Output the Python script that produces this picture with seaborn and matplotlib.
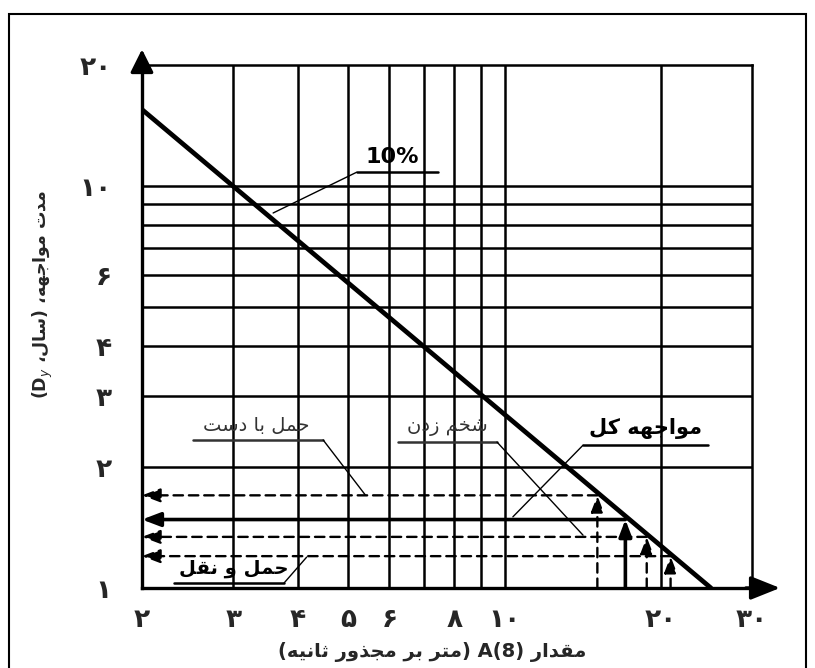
import re
import matplotlib
matplotlib.use("Agg")
import matplotlib.pyplot as plt
import seaborn as sns
from matplotlib.patches import Rectangle

# --- data ---
x_ticks = [2, 3, 4, 5, 6, 8, 10, 20, 30]
x_tick_labels = ["۲", "۳", "۴", "۵", "۶", "۸", "۱۰", "۲۰", "۳۰"]
y_ticks = [1, 2, 3, 4, 6, 10, 20]
y_tick_labels = ["۱", "۲", "۳", "۴", "۶", "۱۰", "۲۰"]
x_grid = [3, 4, 5, 6, 7, 8, 9, 10, 20]
y_grid = [2, 3, 4, 5, 6, 7, 8, 9, 10]

limit_a = [2, 25]          # 10% line, A(8)
limit_dy = [15.5, 1.0]     # 10% line, Dy

source_names = ["حمل با دست", "مواجهه کل", "شخم زدن", "حمل و نقل"]
source_a = [15.1, 17.1, 18.8, 20.9]
source_dy = [1.70, 1.48, 1.34, 1.20]
source_solid = [False, True, False, False]

xlabel = "مقدار A(8) (متر بر مجذور ثانیه)"
ylabel = "مدت مواجهه، (سال، D$_y$)"
line_label = "10%"

# --- minimal arabic/persian shaping (matplotlib has no shaping) ---
FORMS = {
    "ا": ("\uFE8D", "\uFE8E", None, None),
    "ب": ("\uFE8F", "\uFE90", "\uFE91", "\uFE92"),
    "ت": ("\uFE95", "\uFE96", "\uFE97", "\uFE98"),
    "ث": ("\uFE99", "\uFE9A", "\uFE9B", "\uFE9C"),
    "ج": ("\uFE9D", "\uFE9E", "\uFE9F", "\uFEA0"),
    "ح": ("\uFEA1", "\uFEA2", "\uFEA3", "\uFEA4"),
    "خ": ("\uFEA5", "\uFEA6", "\uFEA7", "\uFEA8"),
    "د": ("\uFEA9", "\uFEAA", None, None),
    "ذ": ("\uFEAB", "\uFEAC", None, None),
    "ر": ("\uFEAD", "\uFEAE", None, None),
    "ز": ("\uFEAF", "\uFEB0", None, None),
    "س": ("\uFEB1", "\uFEB2", "\uFEB3", "\uFEB4"),
    "ش": ("\uFEB5", "\uFEB6", "\uFEB7", "\uFEB8"),
    "ق": ("\uFED5", "\uFED6", "\uFED7", "\uFED8"),
    "ل": ("\uFEDD", "\uFEDE", "\uFEDF", "\uFEE0"),
    "م": ("\uFEE1", "\uFEE2", "\uFEE3", "\uFEE4"),
    "ن": ("\uFEE5", "\uFEE6", "\uFEE7", "\uFEE8"),
    "ه": ("\uFEE9", "\uFEEA", "\uFEEB", "\uFEEC"),
    "و": ("\uFEED", "\uFEEE", None, None),
    "ک": ("\uFB8E", "\uFB8F", "\uFB90", "\uFB91"),
    "ی": ("\uFBFC", "\uFBFD", "\uFBFE", "\uFBFF"),
}
MIRROR = {"(": ")", ")": "("}


def shape(word):
    out = []
    for i, ch in enumerate(word):
        if ch not in FORMS:
            out.append(ch)
            continue
        f = FORMS[ch]
        prev = word[i - 1] if i > 0 else ""
        nxt = word[i + 1] if i + 1 < len(word) else ""
        jp = prev in FORMS and FORMS[prev][2] is not None
        jn = f[2] is not None and nxt in FORMS
        if jp and jn:
            out.append(f[3])
        elif jp:
            out.append(f[1])
        elif jn:
            out.append(f[2])
        else:
            out.append(f[0])
    return "".join(out)


def fa(text):
    vis = []
    for tok in text.split(" "):
        if re.search("[\u0600-\u06FF]", tok):
            s = "".join(MIRROR.get(c, c) for c in shape(tok)[::-1])
        elif tok.count("(") != tok.count(")"):
            m = re.match(r"^([()]*)(.*?)([()]*)$", tok)
            lead, core, trail = m.groups()
            s = "".join(MIRROR[c] for c in trail[::-1]) + core + "".join(MIRROR[c] for c in lead[::-1])
        else:
            s = tok
        vis.append(s)
    return " ".join(vis[::-1])


sns.set_style("white")
plt.rcParams["font.family"] = ["DejaVu Sans"]

fig = plt.figure(figsize=(8.15, 6.68), dpi=100)
ax = fig.add_axes([0.1742, 0.1198, 0.7485, 0.7829])
ax.set_xscale("log")
ax.set_yscale("log")
ax.set_xlim(2, 30)
ax.set_ylim(1, 20)

for v in x_grid:
    ax.axvline(v, color="black", lw=1.8, zorder=1)
for v in y_grid:
    ax.axhline(v, color="black", lw=1.8, zorder=1)

for side in ["top", "right"]:
    ax.spines[side].set_linewidth(1.8)
for side in ["left", "bottom"]:
    ax.spines[side].set_linewidth(2.4)
for s in ax.spines.values():
    s.set_color("black")

ax.minorticks_off()
ax.set_xticks(x_ticks, x_tick_labels, fontsize=19, fontweight="bold")
ax.set_yticks(y_ticks, y_tick_labels, fontsize=19, fontweight="bold")
ax.tick_params(axis="both", length=0)
ax.tick_params(axis="x", pad=14)
ax.tick_params(axis="y", pad=22)

# 10% line
sns.lineplot(x=limit_a, y=limit_dy, ax=ax, color="black", lw=3.4, zorder=4, sort=False)

# exposure arrows
for a, d, solid in zip(source_a, source_dy, source_solid):
    ls = "-" if solid else (0, (4, 2.5))
    lw = 2.6 if solid else 1.7
    ax.annotate("", xy=(2, d), xytext=(a, d),
                arrowprops=dict(arrowstyle="-|>,head_length=1.0,head_width=0.38",
                                mutation_scale=11, lw=lw, ls=ls, color="black",
                                shrinkA=0, shrinkB=0), zorder=5)
    ax.annotate("", xy=(a, d), xytext=(a, 1),
                arrowprops=dict(arrowstyle="-|>,head_length=1.0,head_width=0.38",
                                mutation_scale=10, lw=lw, ls=ls, color="black",
                                shrinkA=0, shrinkB=0), zorder=5)

# axis arrows
ax.annotate("", xy=(1.046, 0), xytext=(0.99, 0), xycoords="axes fraction",
            arrowprops=dict(arrowstyle="-|>,head_length=1.0,head_width=0.4",
                            mutation_scale=18, lw=2.4, color="black", shrinkA=0, shrinkB=0))
ax.annotate("", xy=(0, 1.03), xytext=(0, 0.99), xycoords="axes fraction",
            arrowprops=dict(arrowstyle="-|>,head_length=1.0,head_width=0.5",
                            mutation_scale=14, lw=2.4, color="black", shrinkA=0, shrinkB=0))

# labels with underline + leader, in axes fraction
T = ax.transAxes


def tag(text, tx, ty, ux0, ux1, uy, lx, ly, lead_from, size=15, color="black",
        weight="bold", family=None):
    kw = dict(transform=T, ha="center", va="bottom", fontsize=size, color=color,
              fontweight=weight, zorder=6)
    if family:
        kw["family"] = family
    ax.text(tx, ty, text, **kw)
    ax.plot([ux0, ux1], [uy, uy], transform=T, color=color, lw=1.8, zorder=6)
    sx = ux0 if lead_from == "left" else ux1
    ax.plot([sx, lx], [uy, ly], transform=T, color="black", lw=1.0, zorder=6)


tag(line_label, 0.411, 0.805, 0.352, 0.485, 0.795, 0.215, 0.717, "left", size=16,
    family=["Liberation Sans Narrow", "DejaVu Sans"])
tag(fa(source_names[0]), 0.187, 0.293, 0.084, 0.297, 0.283, 0.366, 0.178, "right",
    size=14, color="#333333", weight="normal")
tag(fa(source_names[2]), 0.500, 0.290, 0.420, 0.582, 0.279, 0.723, 0.101, "right",
    size=14, color="#333333", weight="normal")
tag(fa(source_names[1]), 0.825, 0.284, 0.723, 0.928, 0.273, 0.608, 0.136, "left", size=15)
tag(fa(source_names[3]), 0.151, 0.020, 0.052, 0.233, 0.0096, 0.270, 0.059, "right", size=14)

fig.text(432 / 815, 1 - 652 / 668, fa(xlabel), ha="center", va="center",
         fontsize=14, fontweight="bold")
fig.text(43 / 815, 1 - 294 / 668, fa(ylabel), ha="center", va="center",
         rotation=90, fontsize=12.5, fontweight="bold")

fig.patches.append(Rectangle((9 / 815, -0.02), (806 - 9) / 815, 1.02 - 14 / 668,
                             transform=fig.transFigure, fill=False, lw=1.5,
                             edgecolor="black"))

fig.savefig("out.png", dpi=100)
